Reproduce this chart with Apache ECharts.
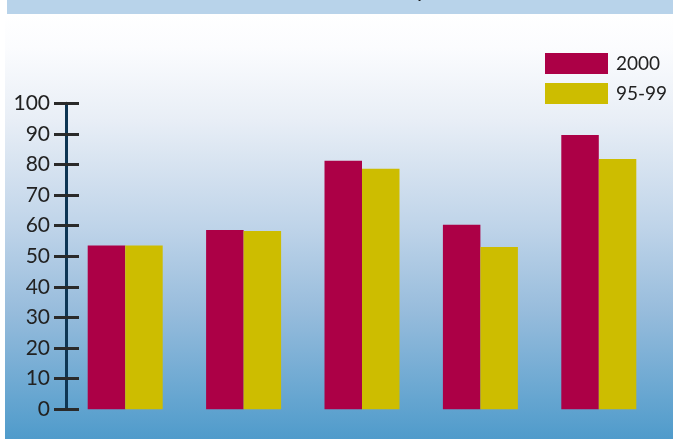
<!DOCTYPE html>
<html>
<head>
<meta charset="utf-8">
<script src="https://cdn.jsdelivr.net/npm/echarts@6/dist/echarts.min.js"></script>
<style>
html,body{margin:0;padding:0;background:#fff;}
#c{width:673px;height:439px;}
</style>
</head>
<body>
<div id="c"></div>
<script>
var categories = ['A', 'B', 'C', 'D', 'E'];
var series2000 = [53.5, 58.6, 81.2, 60.3, 89.6];
var series9599 = [53.5, 58.3, 78.6, 53.0, 81.8];
var seriesNames = ['2000', '95-99'];
var yTicks = [0, 10, 20, 30, 40, 50, 60, 70, 80, 90, 100];

var chart = echarts.init(document.getElementById('c'), null, {renderer: 'canvas'});
var FONT = 'Lato';
var option = {
  animation: false,
  backgroundColor: '#ffffff',
  graphic: [
    {type: 'rect', z: -10, shape: {x: 5, y: 14, width: 668, height: 425},
     style: {fill: new echarts.graphic.LinearGradient(0, 0, 0, 1, [
       {offset: 0, color: '#ffffff'},
       {offset: 0.08, color: '#fbfcfe'},
       {offset: 0.25, color: '#e8eef6'},
       {offset: 0.5, color: '#bfd4e9'},
       {offset: 0.7, color: '#97bcdc'},
       {offset: 1, color: '#4f9bcb'}
     ])}},
    {type: 'rect', z: -9, shape: {x: 7, y: 0, width: 666, height: 14}, style: {fill: '#b8d3ea'}},
    {type: 'text', z: -8, x: 417, y: 1, style: {text: 'p', fill: '#1a1a1a', font: '22px Lato', verticalAlign: 'bottom'}}
  ],
  legend: {
    left: 545, top: 53, padding: 0, orient: 'vertical', itemWidth: 63, itemHeight: 21, itemGap: 9,
    icon: 'rect',
    textStyle: {fontFamily: FONT, fontSize: 19, color: '#222', padding: [0, 0, 0, 3]},
    data: seriesNames
  },
  grid: {left: 66, right: 15, top: 103.3, bottom: 29.7},
  xAxis: {
    type: 'category', data: categories,
    axisLine: {show: false}, axisTick: {show: false}, axisLabel: {show: false}
  },
  yAxis: [{
    type: 'value', min: 0, max: 100, interval: 10, position: 'left',
    axisLine: {show: true, lineStyle: {color: '#0d3553', width: 3}},
    axisTick: {show: true, length: 12, lineStyle: {color: '#2a2a2a', width: 3}},
    splitLine: {show: false},
    axisLabel: {fontFamily: FONT, fontSize: 21, color: '#222', margin: 16,
      formatter: function (v) { return yTicks.indexOf(v) >= 0 ? String(v) : ''; }}
  }, {
    type: 'value', min: 0, max: 100, interval: 10, position: 'left',
    axisLine: {show: false},
    axisTick: {show: true, inside: true, length: 13, lineStyle: {color: '#2a2a2a', width: 3}},
    splitLine: {show: false}, axisLabel: {show: false}
  }],
  series: [
    {name: seriesNames[0], type: 'bar', data: series2000, barWidth: 37.5, barGap: '0%',
     itemStyle: {color: '#ac0046'}},
    {name: seriesNames[1], type: 'bar', data: series9599, barWidth: 37.5, barGap: '0%',
     itemStyle: {color: '#cdbd00'}}
  ]
};
chart.setOption(option);
</script>
</body>
</html>
